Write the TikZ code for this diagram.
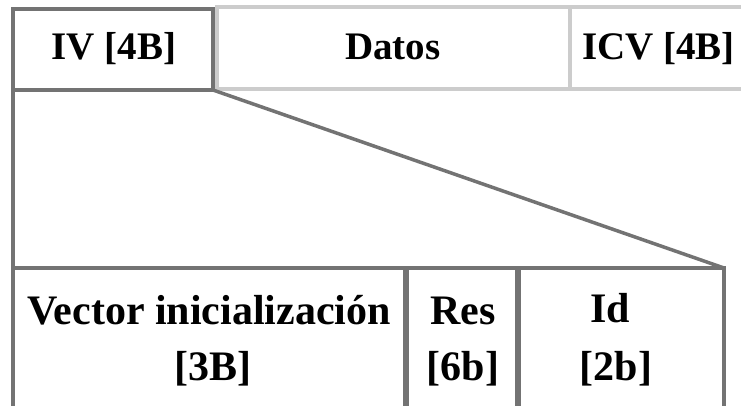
\documentclass[tikz,border=0pt]{standalone}
\usepackage{fontspec}
\setmainfont{Liberation Serif}
\begin{document}
\begin{tikzpicture}[x=1pt,y=-1pt,
  darkline/.style={draw=black!55,line width=4pt},
  lightline/.style={draw=black!20,line width=4pt},
  toplabel/.style={anchor=base,inner sep=0pt,font=\bfseries\fontsize{39}{44}\selectfont},
  botlabel/.style={anchor=base,inner sep=0pt,font=\bfseries\fontsize{42}{48}\selectfont}]
\useasboundingbox (0,0) rectangle (741,405);
\begin{scope}
\clip (0,0) rectangle (741,405);
% packet fields
\draw[lightline] (217,7) rectangle (570,89);
\draw[lightline] (570,7) rectangle (790,89);
\draw[darkline] (13,9) rectangle (213,90);
\coordinate (ivbl) at (13,90);
\coordinate (ivbr) at (213,90);
% expanded IV field
\coordinate (exl) at (13,268);
\coordinate (exr) at (724,268);
\draw[darkline,line width=3.5pt] (ivbl) -- (exl);
\draw[darkline,line width=3.5pt] (ivbr) -- (exr);
\draw[darkline,line width=4pt] (13,430) -- (exl) -- (exr) -- (724,430);
\draw[darkline,line width=6pt] (406,268) -- (406,430);
\draw[darkline,line width=6pt] (518,268) -- (518,430);
\end{scope}
% labels
\node[toplabel] (iv) at (114,59) {IV [4B]};
\node[toplabel] (datos) at (393,59) {Datos};
\node[toplabel,anchor=base west] (icv) at (582,59) {ICV [4B]};
\node[botlabel] (vec) at (209,324) {Vector inicialización};
\node[botlabel] (vecb) at (213,380) {[3B]};
\node[botlabel] (res) at (463,324) {Res};
\node[botlabel] (resb) at (463,380) {[6b]};
\node[botlabel] (id) at (610,322) {Id};
\node[botlabel] (idb) at (616,380) {[2b]};
\end{tikzpicture}
\end{document}
